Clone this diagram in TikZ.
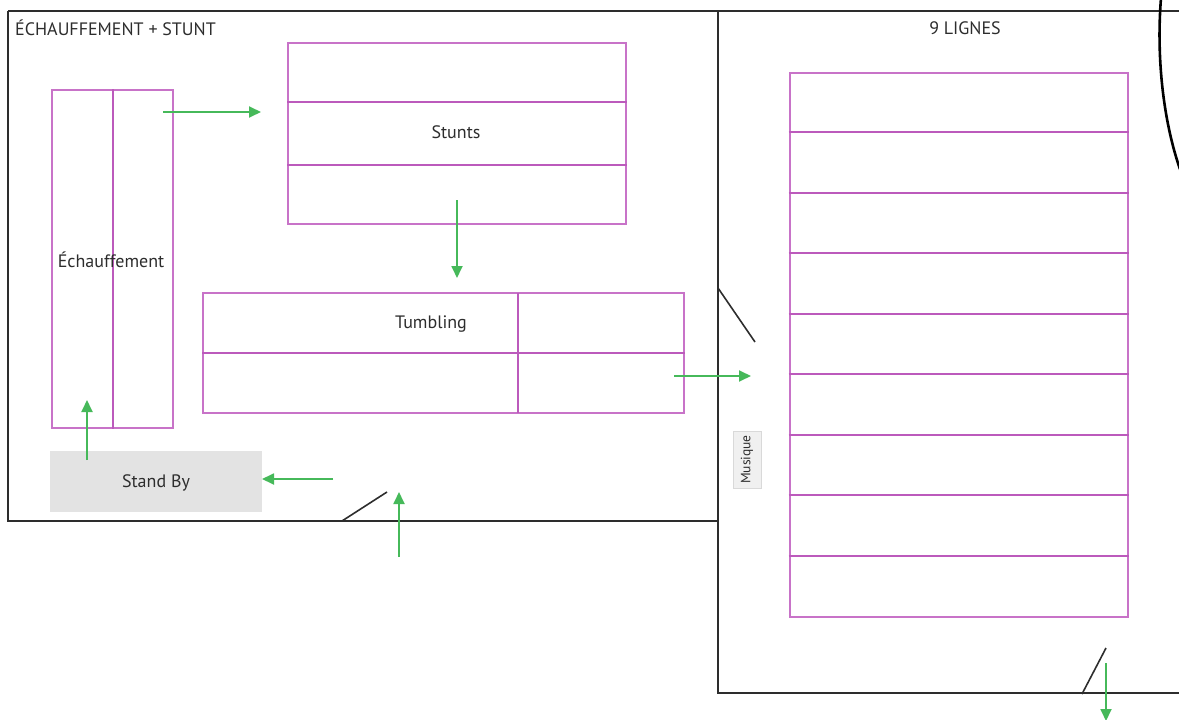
\documentclass[tikz,border=0pt]{standalone}
\usepackage{fontspec}
\setmainfont{PT Sans}
\usetikzlibrary{arrows.meta}
\definecolor{mag}{RGB}{200,115,200}
\definecolor{magd}{RGB}{188,90,188}
\definecolor{grn}{RGB}{70,185,90}
\definecolor{wall}{RGB}{45,45,45}
\definecolor{txt}{RGB}{45,45,45}
\definecolor{sbgray}{RGB}{227,227,227}
\tikzset{
  wallline/.style={draw=wall,line width=2pt},
  doorline/.style={draw=wall,line width=1.6pt},
  zone/.style={draw=mag,line width=2pt,inner sep=0pt,fill=none},
  inner/.style={draw=magd,line width=2pt},
  flow/.style={draw=grn,line width=1.8pt,-{Triangle[length=12pt,width=11pt]}},
  lbl/.style={text=txt,font=\fontsize{18}{20}\selectfont,inner sep=0pt},
  title/.style={text=txt,font=\fontsize{18}{20}\selectfont,inner sep=0pt},
}
\begin{document}
\begin{tikzpicture}[x=1pt,y=-1pt]
\useasboundingbox (0,0) rectangle (1179,720);
% walls
\draw[wallline] (8,11) -- (1179,11);
\draw[wallline] (8,11) -- (8,521) -- (718,521);
\draw[wallline] (718,11) -- (718,693) -- (1179,693);
% doors
\draw[doorline] (342,521) -- (387,492);
\draw[doorline] (718,288) -- (755,342);
\draw[doorline] (1082,694) -- (1106,648);
% arc
\draw[draw=black,line width=2.6pt] (1161,-2) .. controls (1156,60) and (1164,125) .. (1181,172);
% titles
\node[title,anchor=west] (t1) at (15,28) {ÉCHAUFFEMENT + STUNT};
\node[title] (t2) at (965,28) {9 LIGNES};
% Échauffement
\node[zone,minimum width=121pt,minimum height=338pt] (ech) at (112.5,259) {};
\draw[inner] (ech.north) -- (ech.south);
\node[lbl] (echl) at (111,260) {Échauffement};
% Stunts
\node[zone,minimum width=338pt,minimum height=181pt] (stu) at (457,133.5) {};
\draw[inner] ([yshift=-60.3pt]stu.north west) -- ([yshift=-60.3pt]stu.north east);
\draw[inner] ([yshift=60.3pt]stu.south west) -- ([yshift=60.3pt]stu.south east);
\node[lbl] (stul) at (456,132) {Stunts};
% Tumbling
\node[zone,minimum width=481pt,minimum height=120pt] (tum) at (443.5,353) {};
\draw[inner] (tum.west) -- (tum.east);
\draw[inner] (518,293) -- (518,413);
\node[lbl] (tuml) at (431,324) {Tumbling};
% Stand By
\node[fill=sbgray,draw=none,minimum width=212pt,minimum height=61pt,inner sep=0pt] (sb) at (156,481.5) {};
\node[lbl] (sbl) at (156,483) {Stand By};
% 9 lignes
\node[zone,minimum width=338pt,minimum height=544pt] (lig) at (958.5,345) {};
\foreach \i in {1,...,8} {
  \draw[inner] ([yshift=-\i*60.44pt]lig.north west) -- ([yshift=-\i*60.44pt]lig.north east);
}
% Musique
\node[fill=black!6,draw=black!15,line width=0.8pt,minimum width=28pt,minimum height=57pt,inner sep=0pt] (mus) at (747,459.5) {};
\node[text=txt,font=\fontsize{13.5}{15}\selectfont,rotate=90,inner sep=0pt] (musl) at (747,459.5) {Musique};
% flows
\coordinate (a1s) at (163,112); \coordinate (a1e) at (261,112);
\coordinate (a2s) at (457,200); \coordinate (a2e) at (457,278);
\coordinate (a3s) at (674,376); \coordinate (a3e) at (751,376);
\coordinate (a4s) at (333,479); \coordinate (a4e) at (262,479);
\coordinate (a5s) at (87,460); \coordinate (a5e) at (87,400);
\coordinate (a6s) at (399,557); \coordinate (a6e) at (399,492);
\coordinate (a7s) at (1106,663); \coordinate (a7e) at (1106,721);
\foreach \n in {1,...,7} { \draw[flow] (a\n s) -- (a\n e); }
\end{tikzpicture}
\end{document}
